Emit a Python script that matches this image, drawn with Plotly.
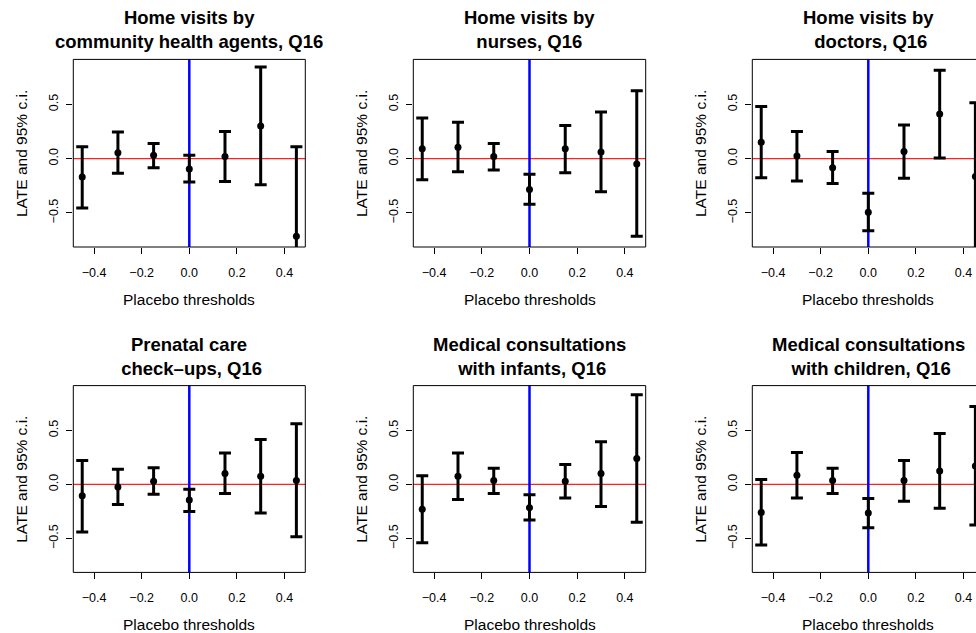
import plotly.graph_objects as go

# Placebo cutoffs (shift of the eligibility threshold)
thresholds = [-0.45, -0.30, -0.15, 0.0, 0.15, 0.30, 0.45]

# LATE point estimates with 95% confidence bounds, one set per outcome
chw_est = [-0.170, 0.055, 0.030, -0.095, 0.020, 0.300, -0.715]
chw_lo = [-0.455, -0.135, -0.085, -0.215, -0.210, -0.240, -1.540]
chw_hi = [0.110, 0.245, 0.140, 0.030, 0.250, 0.845, 0.110]

nurse_est = [0.090, 0.105, 0.020, -0.285, 0.090, 0.060, -0.050]
nurse_lo = [-0.195, -0.120, -0.105, -0.420, -0.130, -0.305, -0.715]
nurse_hi = [0.375, 0.335, 0.140, -0.145, 0.305, 0.430, 0.625]

doctor_est = [0.150, 0.025, -0.085, -0.495, 0.065, 0.410, -0.165]
doctor_lo = [-0.175, -0.205, -0.230, -0.665, -0.180, 0.005, -0.850]
doctor_hi = [0.480, 0.250, 0.065, -0.320, 0.310, 0.815, 0.515]

prenatal_est = [-0.105, -0.025, 0.030, -0.145, 0.100, 0.075, 0.035]
prenatal_lo = [-0.440, -0.185, -0.090, -0.250, -0.085, -0.265, -0.485]
prenatal_hi = [0.220, 0.140, 0.155, -0.045, 0.290, 0.415, 0.560]

infant_est = [-0.230, 0.075, 0.035, -0.215, 0.030, 0.100, 0.240]
infant_lo = [-0.540, -0.140, -0.085, -0.330, -0.125, -0.205, -0.350]
infant_hi = [0.080, 0.290, 0.150, -0.095, 0.185, 0.395, 0.830]

child_est = [-0.260, 0.085, 0.035, -0.265, 0.035, 0.125, 0.170]
child_lo = [-0.560, -0.125, -0.085, -0.400, -0.155, -0.220, -0.375]
child_hi = [0.045, 0.295, 0.150, -0.130, 0.220, 0.470, 0.720]

titles = [
    "Home visits by<br>community health agents, Q16",
    "Home visits by<br>nurses, Q16",
    "Home visits by<br>\u00a0doctors, Q16",
    "Prenatal care<br>\u00a0check\u2013ups, Q16",
    "Medical consultations<br>\u00a0with infants, Q16",
    "Medical consultations<br>\u00a0with children, Q16",
]

x_tickvals = [-0.4, -0.2, 0.0, 0.2, 0.4]
x_ticktext = ["\u22120.4", "\u22120.2", "0.0", "0.2", "0.4"]
y_tickvals = [-0.5, 0.0, 0.5]
y_ticktext = ["\u22120.5", "0.0", "0.5"]

x_label = "Placebo thresholds"
y_label = "LATE and 95% c.i."

panels = [
    (chw_est, chw_lo, chw_hi),
    (nurse_est, nurse_lo, nurse_hi),
    (doctor_est, doctor_lo, doctor_hi),
    (prenatal_est, prenatal_lo, prenatal_hi),
    (infant_est, infant_lo, infant_hi),
    (child_est, child_lo, child_hi),
]

# ---- page geometry (pixels) ----
W, H = 976, 633
col_px = [(73.3, 305.3), (413.3, 645.7), (752.3, 984.3)]
row_px = [(59.4, 247.0), (385.6, 572.4)]
X_FULL = (-0.4875, 0.4875)
Y_RANGE = (-0.814, 0.914)

FONT = "Liberation Sans, Arial, Helvetica, sans-serif"


def px_x(v):
    return v / W


def px_y(v):
    return 1 - v / H


fig = go.Figure()
shapes = []
annotations = []
layout_axes = {}

for i, (est, lo, hi) in enumerate(panels):
    r, c = divmod(i, 3)
    n = "" if i == 0 else str(i + 1)
    left, right = col_px[c]
    top, bottom = row_px[r]

    # panels running past the page edge are cut at the edge
    vis_right = min(right, W)
    x_hi = X_FULL[0] + (vis_right - left) / (right - left) * (X_FULL[1] - X_FULL[0])

    fig.add_trace(go.Scatter(
        x=thresholds, y=est, mode="markers",
        marker=dict(color="black", size=7),
        error_y=dict(
            type="data", symmetric=False,
            array=[h - e for h, e in zip(hi, est)],
            arrayminus=[e - l for e, l in zip(est, lo)],
            color="black", thickness=3, width=6,
        ),
        xaxis="x" + n, yaxis="y" + n, showlegend=False, hoverinfo="x+y",
    ))

    layout_axes["xaxis" + n] = dict(
        domain=[px_x(left), px_x(vis_right)], range=[X_FULL[0], x_hi],
        anchor="y" + n, tickvals=x_tickvals, ticktext=x_ticktext,
        ticks="outside", ticklen=6, tickwidth=1, tickcolor="black",
        showgrid=False, zeroline=False, showline=False,
        tickfont=dict(family=FONT, size=12.5, color="black"),
        ticklabelstandoff=8,
    )
    layout_axes["yaxis" + n] = dict(
        domain=[px_y(bottom), px_y(top)], range=list(Y_RANGE),
        anchor="x" + n, tickvals=y_tickvals, ticktext=y_ticktext,
        tickangle=-90, ticks="outside", ticklen=6, tickwidth=1,
        tickcolor="black", showgrid=False, zeroline=False, showline=False,
        tickfont=dict(family=FONT, size=12.5, color="black"),
        ticklabelstandoff=3,
    )

    # reference lines: no effect (red) and the true cutoff (blue)
    shapes.append(dict(type="line", xref="x" + n + " domain", yref="y" + n,
                       x0=0, x1=1, y0=0, y1=0, layer="below",
                       line=dict(color="#ff2020", width=1.3)))
    shapes.append(dict(type="line", xref="x" + n, yref="y" + n + " domain",
                       x0=0, x1=0, y0=0, y1=1, layer="below",
                       line=dict(color="#0000ff", width=2.5)))
    # box around the plotting region
    shapes.append(dict(type="rect", xref="paper", yref="paper",
                       x0=px_x(left), x1=px_x(right),
                       y0=px_y(bottom), y1=px_y(top),
                       line=dict(color="black", width=1), layer="above"))

    cx = (left + right) / 2
    annotations.append(dict(
        text=titles[i], xref="paper", yref="paper",
        x=px_x(cx), y=px_y(top - 29.5), xanchor="center", yanchor="middle",
        showarrow=False, align="center",
        font=dict(family=FONT, size=18.5, color="black", weight="bold"),
    ))
    annotations.append(dict(
        text=x_label, xref="paper", yref="paper",
        x=px_x(cx), y=px_y(bottom + 52), xanchor="center", yanchor="middle",
        showarrow=False, font=dict(family=FONT, size=15.5, color="black"),
    ))
    annotations.append(dict(
        text=y_label, xref="paper", yref="paper", textangle=-90,
        x=px_x(left - 52.5), y=px_y((top + bottom) / 2),
        xanchor="center", yanchor="middle",
        showarrow=False, font=dict(family=FONT, size=15.5, color="black"),
    ))

fig.update_layout(
    width=W, height=H,
    margin=dict(l=0, r=0, t=0, b=0),
    paper_bgcolor="white", plot_bgcolor="white",
    shapes=shapes, annotations=annotations,
    font=dict(family=FONT, color="black"),
    **layout_axes,
)

fig.write_html("out.html")
